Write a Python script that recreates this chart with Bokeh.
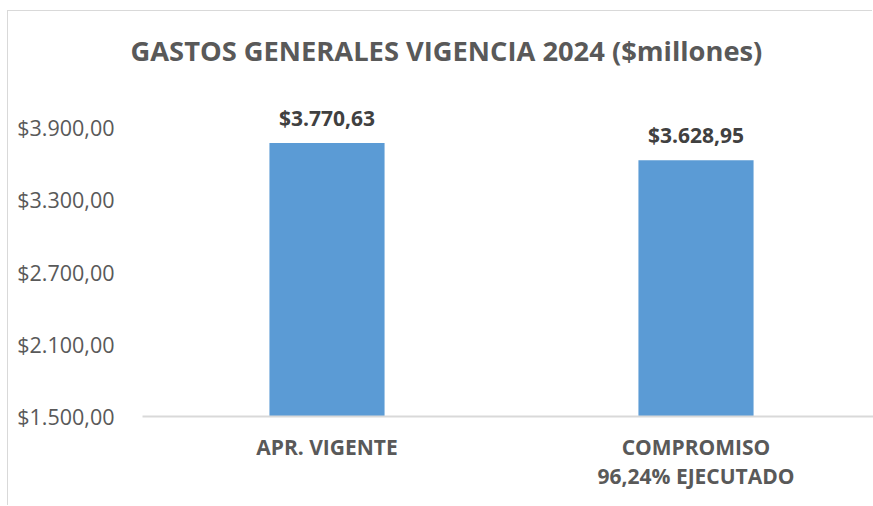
from bokeh.plotting import figure
from bokeh.models import Range1d, FixedTicker, ColumnDataSource, LabelSet
from bokeh.core.properties import value
from bokeh.embed import file_html
from bokeh.resources import INLINE

title_text = "GASTOS GENERALES VIGENCIA 2024 ($millones)"
categories = ["APR. VIGENTE", "COMPROMISO\n96,24% EJECUTADO"]
values = [3770.63, 3628.95]
value_labels = ["$3.770,63", "$3.628,95"]
y_ticks = [1500, 2100, 2700, 3300, 3900]

def money(v):
    s = f"${v:,.2f}"
    return s.replace(",", "#").replace(".", ",").replace("#", ".")

W, H = 865, 495
left_border = 134
bottom_border = 90
top_border = 74
frame_w = W - left_border
frame_h = H - bottom_border - top_border
px_per_cat = 369.0
y0 = y_ticks[0]
px_per_unit = 289.0 / (y_ticks[-1] - y_ticks[0])

x_end = frame_w / px_per_cat
y_end = y0 + frame_h / px_per_unit

p = figure(width=W, height=H, output_backend="svg", toolbar_location=None,
           x_range=Range1d(0, x_end), y_range=Range1d(y0, y_end),
           min_border_left=left_border, min_border_right=0,
           min_border_top=top_border, min_border_bottom=bottom_border,
           title=title_text,
           styles={"margin-left": "8px", "margin-top": "11px",
                   "box-shadow": "-1px -1px 0 0 #D9D9D9"})
p.outline_line_color = None
p.background_fill_color = "white"
p.border_fill_color = "white"
p.xgrid.visible = False
p.ygrid.visible = False

p.title.align = "left"
p.title.offset = -12
p.title.text_font = "Open Sans"
p.title.text_font_style = "bold"
p.title.text_font_size = "27.3px"
p.title.text_color = "#595959"
p.title.standoff = 34

xs = [i + 0.5 for i in range(len(categories))]
src = ColumnDataSource(dict(x=xs, top=values, lab=value_labels))
p.vbar(x="x", top="top", bottom=y0, width=0.312, source=src,
       fill_color="#5B9BD5", line_color=None)

p.add_layout(LabelSet(x="x", y="top", text="lab", source=src,
                      text_align="center", text_baseline="alphabetic",
                      y_offset=17, text_font=value("Open Sans"),
                      text_font_style="bold", text_font_size="21px",
                      text_color="#404040"))

# x axis
p.xaxis.ticker = FixedTicker(ticks=xs)
p.xaxis.major_label_overrides = {x: c for x, c in zip(xs, categories)}
p.xaxis.axis_line_color = "#D9D9D9"
p.xaxis.axis_line_width = 2
p.xaxis.major_tick_line_color = None
p.xaxis.minor_tick_line_color = None
p.xaxis.major_label_text_font = "Open Sans"
p.xaxis.major_label_text_font_style = "bold"
p.xaxis.major_label_text_font_size = "21px"
p.xaxis.major_label_text_color = "#595959"
p.xaxis.major_label_standoff = 10
p.xaxis.major_label_text_line_height = 1.05

# y axis
p.yaxis.ticker = FixedTicker(ticks=y_ticks)
p.yaxis.major_label_overrides = {t: money(t) for t in y_ticks}
p.yaxis.axis_line_color = None
p.yaxis.major_tick_line_color = None
p.yaxis.minor_tick_line_color = None
p.yaxis.major_label_text_font = "Open Sans"
p.yaxis.major_label_text_font_size = "21.5px"
p.yaxis.major_label_text_color = "#595959"
p.yaxis.major_label_standoff = 22

open("out.html", "w").write(file_html(p, INLINE))
